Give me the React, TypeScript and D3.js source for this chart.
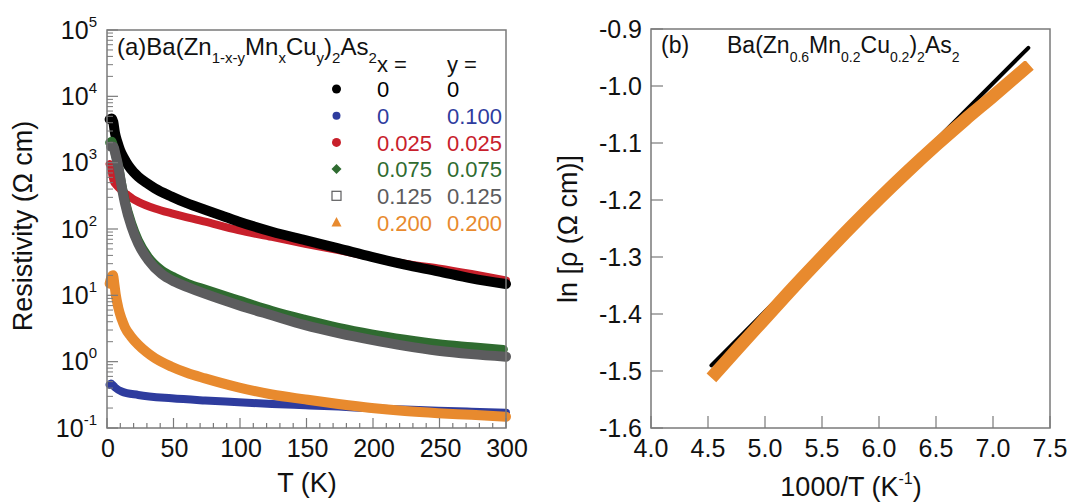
import React from "react";
import * as d3 from "d3";

// ---------- Panel (a) data: resistivity vs T ----------
const T_BLACK = [2, 3.5, 4.7, 6, 8, 9.8, 13, 16, 20, 23.5, 30, 36, 48.6, 60, 73.7, 86, 98.7, 124, 149, 174, 199, 224, 249, 274, 300];
const R_BLACK = [4500, 4650, 4150, 2800, 2000, 1550, 1150, 910, 720, 615, 490, 410, 308, 245, 195, 160, 130, 91, 68, 51, 38, 29, 23, 18, 14.8];

const T_BLUE = [2, 3, 4, 6, 11, 23.5, 48.6, 73.7, 99, 124, 149, 174, 199, 224, 249, 274, 300];
const R_BLUE = [0.45, 0.47, 0.45, 0.41, 0.355, 0.315, 0.28, 0.26, 0.245, 0.23, 0.22, 0.21, 0.198, 0.19, 0.182, 0.176, 0.17];

const T_RED = [2, 3, 4, 5, 7, 10, 13, 16, 20, 23.5, 36, 48.6, 73.7, 98.7, 124, 149, 174, 199, 224, 249, 274, 300];
const R_RED = [950, 850, 650, 530, 460, 400, 350, 320, 280, 257, 204, 172, 129, 96, 76, 60, 48, 38, 30, 25.5, 21, 16.8];

const T_GREEN = [2, 3.5, 5, 6.5, 8.5, 11, 13.5, 18.5, 23.5, 31, 41, 51, 61, 74, 99, 124, 149, 174, 199, 224, 249, 274, 298];
const R_GREEN = [2000, 2100, 1750, 1300, 900, 480, 275, 122, 68, 38, 24, 18.5, 15, 12.3, 8.5, 5.9, 4.35, 3.3, 2.63, 2.18, 1.86, 1.68, 1.53];

const T_GRAY = [3, 4.7, 6.5, 8.5, 11, 13.5, 18.5, 23.5, 31, 41, 51, 61, 74, 99, 124, 149, 174, 199, 224, 249, 274, 300];
const R_GRAY = [1750, 1740, 1300, 870, 440, 245, 107, 60, 34, 21, 16, 13.2, 10.5, 7.1, 5.0, 3.55, 2.7, 2.13, 1.73, 1.46, 1.30, 1.19];

const T_ORANGE = [2, 3, 4.5, 5.5, 6.5, 8.5, 11, 13.5, 18, 23.5, 30, 36, 48.6, 60, 73.7, 98.7, 124, 149, 174, 199, 224, 249, 274, 300];
const R_ORANGE = [15, 18, 20, 15, 10.5, 6.5, 4.4, 3.3, 2.4, 1.8, 1.38, 1.13, 0.84, 0.68, 0.56, 0.41, 0.32, 0.27, 0.23, 0.2, 0.18, 0.167, 0.158, 0.148];

const LEGEND_X = ["0", "0", "0.025", "0.075", "0.125", "0.200"];
const LEGEND_Y = ["0", "0.100", "0.025", "0.075", "0.125", "0.200"];
const LEGEND_SHAPES = ["circle", "circleSmall", "circle", "diamond", "square", "triangle"];

const X_TICKS_A = [0, 50, 100, 150, 200, 250, 300];
const Y_EXP_A = [-1, 0, 1, 2, 3, 4, 5];

// ---------- Panel (b) data: ln(rho) vs 1000/T ----------
const INV_T_ORANGE = [4.53, 4.75, 5.0, 5.25, 5.5, 5.75, 6.0, 6.25, 6.5, 6.75, 7.0, 7.32];
const LNRHO_ORANGE = [-1.512, -1.463, -1.408, -1.353, -1.3, -1.248, -1.198, -1.15, -1.104, -1.06, -1.018, -0.963];
const INV_T_FIT = [4.53, 7.31];
const LNRHO_FIT = [-1.49, -0.933];

const X_TICKS_B = [4.0, 4.5, 5.0, 5.5, 6.0, 6.5, 7.0, 7.5];
const Y_TICKS_B = [-1.6, -1.5, -1.4, -1.3, -1.2, -1.1, -1.0, -0.9];

const C_BLACK = "#000000";
const C_BLUE = "#2e3c9e";
const C_RED = "#c8202b";
const C_GREEN = "#2f6b30";
const C_GRAY = "#5c5c5e";
const C_ORANGE = "#e88a2e";
const LEGEND_COLORS = [C_BLACK, C_BLUE, C_RED, C_GREEN, C_GRAY, C_ORANGE];

const AXIS = "#7a7a7a";
const FONT = "'Liberation Sans', Arial, Helvetica, sans-serif";

export default function App() {
  // panel a scales
  const xA = d3.scaleLinear().domain([0, 300]).range([107, 506]);
  const yA = d3.scaleLog().domain([0.1, 1e5]).range([428, 30]);
  // panel b scales
  const xB = d3.scaleLinear().domain([4.0, 7.5]).range([651, 1050]);
  const yB = d3.scaleLinear().domain([-1.6, -0.9]).range([428, 29]);

  const lineA = (ts: number[], rs: number[]) =>
    d3
      .line<number>()
      .x((_, i) => xA(ts[i]))
      .y((r) => yA(r))
      .curve(d3.curveMonotoneX)(rs) || "";

  const lineB = (xs: number[], ys: number[]) =>
    d3
      .line<number>()
      .x((_, i) => xB(xs[i]))
      .y((v) => yB(v))
      .curve(d3.curveMonotoneX)(ys) || "";

  const seriesA = [
    { t: T_BLUE, r: R_BLUE, c: C_BLUE, w: 8 },
    { t: T_RED, r: R_RED, c: C_RED, w: 8 },
    { t: T_BLACK, r: R_BLACK, c: C_BLACK, w: 10 },
    { t: T_GREEN, r: R_GREEN, c: C_GREEN, w: 9 },
    { t: T_GRAY, r: R_GRAY, c: C_GRAY, w: 10 },
    { t: T_ORANGE, r: R_ORANGE, c: C_ORANGE, w: 10 },
  ];

  // log ticks
  const minorA: number[] = [];
  for (let e = -1; e < 5; e++) {
    for (let m = 2; m <= 9; m++) minorA.push(m * Math.pow(10, e));
  }
  const xMinorA = d3.range(0, 301, 10);

  const legendRowY = (i: number) => 89 + i * 26.7;
  const markerX = 336.5;

  const renderMarker = (shape: string, color: string, cx: number, cy: number, key: number) => {
    if (shape === "circle") return <circle key={key} cx={cx} cy={cy} r={4.5} fill={color} />;
    if (shape === "circleSmall") return <circle key={key} cx={cx} cy={cy} r={4} fill={color} />;
    if (shape === "diamond")
      return (
        <path key={key} d={`M${cx},${cy - 5} L${cx + 5},${cy} L${cx},${cy + 5} L${cx - 5},${cy} Z`} fill={color} />
      );
    if (shape === "square")
      return <rect key={key} x={cx - 4.5} y={cy - 4.5} width={9} height={9} fill="white" stroke={color} strokeWidth={1.2} />;
    return (
      <path key={key} d={`M${cx},${cy - 5.5} L${cx + 5},${cy + 4} L${cx - 5},${cy + 4} Z`} fill={color} />
    );
  };

  return (
    <svg
      width={1071}
      height={502}
      style={{ position: "absolute", left: 0, top: 0, background: "white" }}
      fontFamily={FONT}
    >
      <rect x={0} y={0} width={1071} height={502} fill="white" />

      {/* ================= Panel (a) ================= */}
      <g>
        {seriesA.map((s, i) => (
          <path
            key={i}
            d={lineA(s.t, s.r)}
            fill="none"
            stroke={s.c}
            strokeWidth={s.w}
            strokeLinecap="round"
            strokeLinejoin="round"
          />
        ))}

        <rect x={107} y={30} width={399} height={398} fill="none" stroke={AXIS} strokeWidth={1.5} />

        {Y_EXP_A.map((e) => (
          <line key={"ym" + e} x1={107} x2={118} y1={yA(Math.pow(10, e))} y2={yA(Math.pow(10, e))} stroke={AXIS} strokeWidth={1.2} />
        ))}
        {minorA.map((v, i) => (
          <line key={"yn" + i} x1={107} x2={113} y1={yA(v)} y2={yA(v)} stroke={AXIS} strokeWidth={1} />
        ))}
        {xMinorA.map((v) => (
          <line
            key={"xt" + v}
            x1={xA(v)}
            x2={xA(v)}
            y1={428}
            y2={v % 50 === 0 ? 418 : 423}
            stroke={AXIS}
            strokeWidth={1.2}
          />
        ))}

        {Y_EXP_A.map((e) => (
          <text key={"yl" + e} x={97} y={yA(Math.pow(10, e)) + 8.5} textAnchor="end" fontSize={25} fill="#111">
            <tspan>10</tspan>
            <tspan fontSize={15} dy={-12}>
              {e < 0 ? "-" + Math.abs(e) : String(e)}
            </tspan>
          </text>
        ))}
        {X_TICKS_A.map((v) => (
          <text key={"xl" + v} x={xA(v) + 1} y={457} textAnchor="middle" fontSize={25} fill="#111">
            {v}
          </text>
        ))}

        <text x={307} y={492} textAnchor="middle" fontSize={27} fill="#111">
          T (K)
        </text>
        <text transform="translate(32,226) rotate(-90)" textAnchor="middle" fontSize={27} fill="#111">
          Resistivity (Ω cm)
        </text>

        <text x={117} y={55} fontSize={24} fill="#111">
          <tspan>(a)Ba(Zn</tspan>
          <tspan fontSize={15} dy={8}>1-x-y</tspan>
          <tspan dy={-8}>Mn</tspan>
          <tspan fontSize={15} dy={8}>x</tspan>
          <tspan dy={-8}>Cu</tspan>
          <tspan fontSize={15} dy={8}>y</tspan>
          <tspan dy={-8}>)</tspan>
          <tspan fontSize={15} dy={8}>2</tspan>
          <tspan dy={-8}>As</tspan>
          <tspan fontSize={15} dy={8}>2</tspan>
        </text>

        <text x={377} y={72} fontSize={22} fill="#111">x =</text>
        <text x={447} y={72} fontSize={22} fill="#111">y =</text>
        {LEGEND_X.map((lx, i) => (
          <g key={"lg" + i}>
            {renderMarker(LEGEND_SHAPES[i], LEGEND_COLORS[i], markerX, legendRowY(i), i)}
            <text x={377} y={legendRowY(i) + 8.3} fontSize={22} fill={LEGEND_COLORS[i]}>
              {lx}
            </text>
            <text x={447} y={legendRowY(i) + 8.3} fontSize={22} fill={LEGEND_COLORS[i]}>
              {LEGEND_Y[i]}
            </text>
          </g>
        ))}
      </g>

      {/* ================= Panel (b) ================= */}
      <g>
        <path d={lineB(INV_T_FIT, LNRHO_FIT)} fill="none" stroke={C_BLACK} strokeWidth={4} strokeLinecap="round" />
        <path d={lineB(INV_T_ORANGE, LNRHO_ORANGE)} fill="none" stroke={C_ORANGE} strokeWidth={13} strokeLinecap="butt" strokeLinejoin="round" />

        <rect x={651} y={29} width={399} height={399} fill="none" stroke={AXIS} strokeWidth={1.5} />

        {Y_TICKS_B.map((v) => (
          <line key={"byt" + v} x1={651} x2={663} y1={yB(v)} y2={yB(v)} stroke={AXIS} strokeWidth={1.2} />
        ))}
        {X_TICKS_B.map((v) => (
          <line key={"bxt" + v} x1={xB(v)} x2={xB(v)} y1={428} y2={416} stroke={AXIS} strokeWidth={1.2} />
        ))}

        {Y_TICKS_B.map((v) => (
          <text key={"byl" + v} x={642} y={yB(v) + 8.5} textAnchor="end" fontSize={25} fill="#111">
            {v.toFixed(1)}
          </text>
        ))}
        {X_TICKS_B.map((v) => (
          <text key={"bxl" + v} x={xB(v)} y={457} textAnchor="middle" fontSize={25} fill="#111">
            {v.toFixed(1)}
          </text>
        ))}

        <text x={851} y={496} textAnchor="middle" fontSize={27} fill="#111">
          <tspan>1000/T (K</tspan>
          <tspan fontSize={16} dy={-12}>-1</tspan>
          <tspan dy={12}>)</tspan>
        </text>
        <text transform="translate(577,229) rotate(-90)" textAnchor="middle" fontSize={27} fill="#111">
          ln [ρ (Ω cm)]
        </text>

        <text x={661} y={53} fontSize={23} fill="#111">(b)</text>
        <text x={727} y={53} fontSize={23} fill="#111">
          <tspan>Ba(Zn</tspan>
          <tspan fontSize={14} dy={9}>0.6</tspan>
          <tspan dy={-9}>Mn</tspan>
          <tspan fontSize={14} dy={9}>0.2</tspan>
          <tspan dy={-9}>Cu</tspan>
          <tspan fontSize={14} dy={9}>0.2</tspan>
          <tspan dy={-9}>)</tspan>
          <tspan fontSize={14} dy={9}>2</tspan>
          <tspan dy={-9}>As</tspan>
          <tspan fontSize={14} dy={9}>2</tspan>
        </text>
      </g>
    </svg>
  );
}
